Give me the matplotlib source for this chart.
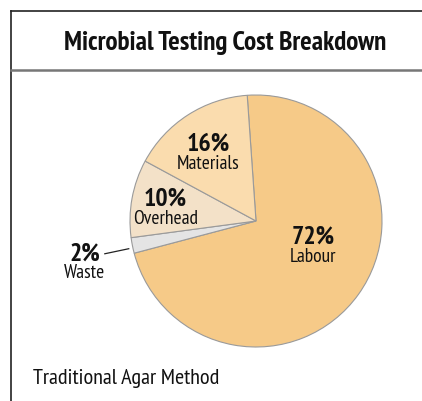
import matplotlib.pyplot as plt
from matplotlib.lines import Line2D

# data
categories = ['Labour', 'Waste', 'Overhead', 'Materials']
shares = [72, 2, 10, 16]
colors = ['#F6CA88', '#E4E4E4', '#F3E1C8', '#FADCAE']

# label positions inside pie axes (pie radius = 1)
label_pos = {
    'Labour': (0.45, -0.21),
    'Waste': (-1.36, -0.34),
    'Overhead': (-0.72, 0.09),
    'Materials': (-0.38, 0.53),
}

plt.rcParams['font.family'] = ['PT Sans Narrow', 'DejaVu Sans']

W, H = 422, 401
fig = plt.figure(figsize=(W / 100, H / 100), dpi=100)

# frame lines (figure coords)
def fx(px):
    return px / W

def fy(py):
    return 1 - py / H

fig.add_artist(Line2D([fx(11), fx(11)], [fy(11), 0], color='#222222', lw=1.2))
fig.add_artist(Line2D([fx(11), 1], [fy(11), fy(11)], color='#222222', lw=1.2))
fig.add_artist(Line2D([fx(11), 1], [fy(70), fy(70)], color='#777777', lw=1.8))

fig.text(fx(225), fy(43), 'Microbial Testing Cost Breakdown', ha='center', va='center',
         fontsize=19.5, fontweight='bold', color='#111111')
fig.text(fx(33), fy(379), 'Traditional Agar Method', ha='left', va='center',
         fontsize=16, color='#111111')

# pie axes: centre (256, 221), radius 126 px
cx, cy, r = 256, 221, 126
ax = fig.add_axes([fx(cx - r), fy(cy + r), 2 * r / W, 2 * r / H])
ax.pie(shares, colors=colors, startangle=94, counterclock=False, radius=1,
       wedgeprops=dict(edgecolor='#9A9A9A', linewidth=0.8))
ax.set_xlim(-1, 1)
ax.set_ylim(-1, 1)
ax.set_aspect('equal')
ax.axis('off')

for cat, val in zip(categories, shares):
    x, y = label_pos[cat]
    ax.text(x, y + 0.08, f'{val}%', ha='center', va='center', fontsize=18.5,
            fontweight='bold', color='#111111', clip_on=False)
    ax.text(x, y - 0.075, cat, ha='center', va='center', fontsize=14,
            color='#111111', clip_on=False)

# leader line for Waste
ax.plot([-1.20, -1.01], [-0.26, -0.22], color='#222222', lw=0.9, clip_on=False)

fig.savefig('out.png', dpi=100)
